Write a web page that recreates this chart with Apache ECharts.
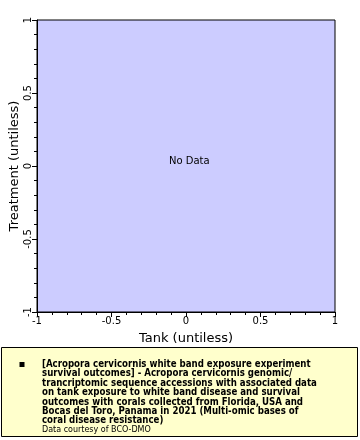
<!DOCTYPE html>
<html><head><meta charset="utf-8">
<script src="https://cdn.jsdelivr.net/npm/echarts@6/dist/echarts.min.js"></script>
<style>html,body{margin:0;padding:0;background:#fff}#c{width:360px;height:440px}</style>
</head><body><div id="c"></div>
<script>
const xTitle = 'Tank (untiless)';
const yTitle = 'Treatment (untiless)';
const xRange = [-1, 1];
const yRange = [-1, 1];
const seriesData = []; // no data
const seriesName = '[Acropora cervicornis white band exposure experiment\nsurvival outcomes] - Acropora cervicornis genomic/\ntrancriptomic sequence accessions with associated data\non tank exposure to white band disease and survival\noutcomes with corals collected from Florida, USA and\nBocas del Toro, Panama in 2021 (Multi-omic bases of\ncoral disease resistance)';
const credit = 'Data courtesy of BCO-DMO';
const noDataText = 'No Data';

const chart = echarts.init(document.getElementById('c'), null, {renderer: 'canvas'});
const axisCommon = {
  type: 'value', interval: 0.5,
  axisLine: {show: true, onZero: false, lineStyle: {color: '#000', width: 1}},
  axisTick: {show: true, inside: false, length: 5, lineStyle: {color: '#000'}},
  minorTick: {show: true, splitNumber: 5, length: 3, lineStyle: {color: '#000'}},
  splitLine: {show: false},
  axisLabel: {color: '#000', fontFamily: 'DejaVu Sans', fontSize: 10, margin: 4,
    formatter: v => String(v)},
  nameLocation: 'middle',
  nameMoveOverlap: false,
  nameTextStyle: {color: '#000', fontFamily: 'DejaVu Sans', fontSize: 13}
};
chart.setOption({
  animation: false,
  grid: {left: 37, top: 20, right: 25, bottom: 128, show: true, backgroundColor: '#ccccff', borderColor: '#000', borderWidth: 1, containLabel: false, outerBoundsMode: 'none'},
  xAxis: Object.assign({}, axisCommon, {min: xRange[0], max: xRange[1], name: xTitle, nameGap: 20}),
  yAxis: Object.assign({}, axisCommon, {min: yRange[0], max: yRange[1], name: yTitle, nameGap: 16,
    axisLabel: Object.assign({}, axisCommon.axisLabel, {rotate: 90})}),
  series: [{type: 'scatter', name: seriesName, data: seriesData}],
  graphic: [
    {type: 'text', left: 169, top: 156, style: {text: noDataText, fill: '#000', font: '10px "DejaVu Sans"'}},
    {type: 'rect', shape: {x: 1.5, y: 347.5, width: 356, height: 89}, style: {fill: '#ffffcc', stroke: '#000', lineWidth: 1}},
    {type: 'rect', shape: {x: 19.5, y: 362, width: 5, height: 5}, style: {fill: '#000'}},
    {type: 'text', left: 42, top: 359.5, style: {
      text: '{b|' + seriesName + '}\n{n|' + credit + '}',
      rich: {
        b: {fontFamily: 'DejaVu Sans Condensed', fontWeight: 'bold', fontSize: 9.6, lineHeight: 9.4, fill: '#000'},
        n: {fontFamily: 'DejaVu Sans', fontSize: 8, lineHeight: 9.4, fill: '#000'}
      }
    }}
  ]
});
</script></body></html>
